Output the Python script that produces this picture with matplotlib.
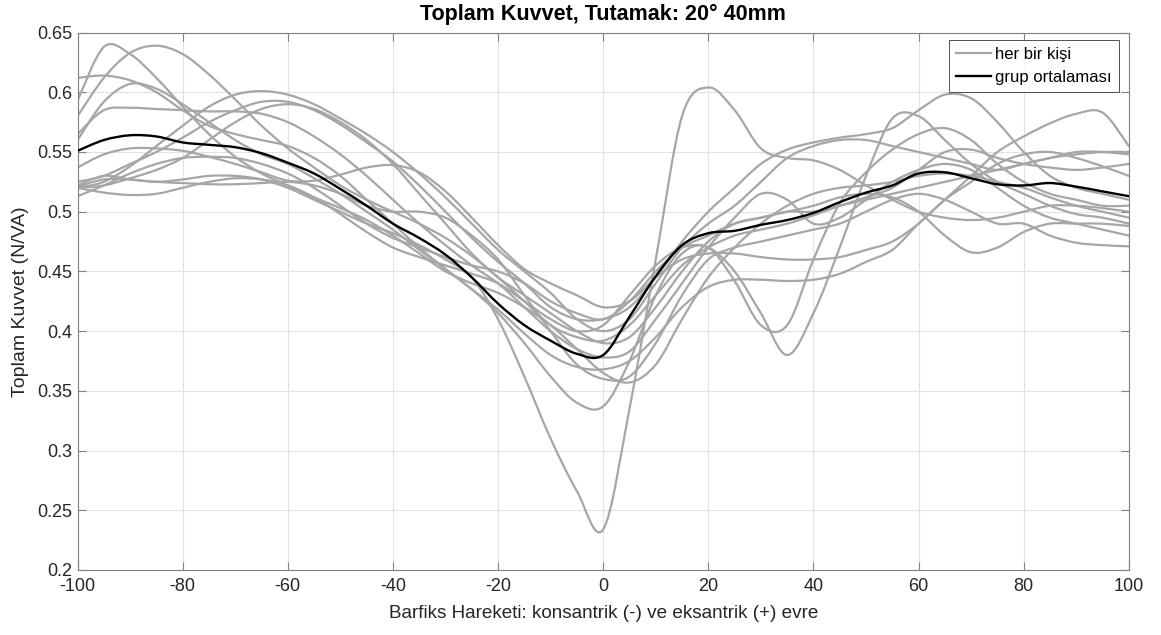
import numpy as np
import matplotlib
matplotlib.use("Agg")
import matplotlib.pyplot as plt
from matplotlib.path import Path
from matplotlib.patches import PathPatch
from matplotlib.lines import Line2D
from matplotlib import font_manager

# ---------------------------------------------------------------- data
phase = list(range(-100, 101, 5))

group_mean = [0.551, 0.560, 0.564, 0.563, 0.558, 0.556, 0.554, 0.549, 0.541, 0.532,
              0.519, 0.505, 0.490, 0.478, 0.464, 0.445, 0.423, 0.405, 0.392, 0.381,
              0.380, 0.412, 0.446, 0.472, 0.482, 0.484, 0.489, 0.493, 0.499, 0.508,
              0.516, 0.522, 0.532, 0.533, 0.528, 0.523, 0.522, 0.524, 0.521, 0.517,
              0.513]

subject_01 = [0.593, 0.638, 0.632, 0.612, 0.588, 0.565, 0.546, 0.532, 0.522, 0.512,
              0.503, 0.493, 0.480, 0.465, 0.450, 0.440, 0.432, 0.420, 0.405, 0.385,
              0.365, 0.357, 0.372, 0.410, 0.445, 0.470, 0.490, 0.505, 0.515, 0.520,
              0.522, 0.525, 0.530, 0.532, 0.530, 0.525, 0.520, 0.512, 0.505, 0.500,
              0.495]
subject_02 = [0.580, 0.612, 0.633, 0.639, 0.632, 0.615, 0.594, 0.572, 0.553, 0.537,
              0.522, 0.510, 0.500, 0.490, 0.478, 0.463, 0.445, 0.425, 0.405, 0.395,
              0.392, 0.405, 0.430, 0.455, 0.470, 0.480, 0.485, 0.490, 0.497, 0.505,
              0.512, 0.520, 0.535, 0.550, 0.552, 0.545, 0.540, 0.537, 0.535, 0.537,
              0.540]
subject_03 = [0.612, 0.614, 0.610, 0.600, 0.585, 0.572, 0.565, 0.560, 0.555, 0.545,
              0.530, 0.510, 0.490, 0.470, 0.452, 0.435, 0.415, 0.390, 0.362, 0.340,
              0.337, 0.375, 0.430, 0.465, 0.470, 0.442, 0.405, 0.405, 0.460, 0.507,
              0.533, 0.552, 0.565, 0.570, 0.560, 0.540, 0.525, 0.515, 0.510, 0.505,
              0.505]
subject_04 = [0.560, 0.592, 0.607, 0.603, 0.590, 0.575, 0.560, 0.548, 0.540, 0.528,
              0.515, 0.500, 0.485, 0.468, 0.452, 0.435, 0.418, 0.398, 0.380, 0.370,
              0.368, 0.375, 0.395, 0.420, 0.437, 0.443, 0.443, 0.442, 0.443, 0.448,
              0.458, 0.468, 0.490, 0.510, 0.530, 0.550, 0.563, 0.574, 0.582, 0.583,
              0.555]
subject_05 = [0.565, 0.585, 0.587, 0.586, 0.585, 0.584, 0.584, 0.582, 0.575, 0.563,
              0.548, 0.530, 0.510, 0.490, 0.472, 0.455, 0.440, 0.420, 0.400, 0.385,
              0.378, 0.383, 0.410, 0.440, 0.470, 0.495, 0.515, 0.510, 0.490, 0.495,
              0.510, 0.525, 0.535, 0.540, 0.535, 0.520, 0.505, 0.495, 0.490, 0.485,
              0.480]
subject_06 = [0.520, 0.525, 0.538, 0.555, 0.572, 0.588, 0.598, 0.601, 0.598, 0.590,
              0.578, 0.565, 0.550, 0.532, 0.512, 0.490, 0.468, 0.450, 0.432, 0.410,
              0.400, 0.410, 0.440, 0.470, 0.490, 0.505, 0.525, 0.545, 0.555, 0.560,
              0.560, 0.555, 0.550, 0.545, 0.540, 0.535, 0.540, 0.545, 0.550, 0.550,
              0.548]
subject_07 = [0.525, 0.530, 0.540, 0.550, 0.562, 0.575, 0.585, 0.592, 0.592, 0.585,
              0.573, 0.558, 0.542, 0.522, 0.500, 0.478, 0.458, 0.440, 0.420, 0.410,
              0.410, 0.420, 0.445, 0.475, 0.500, 0.520, 0.540, 0.552, 0.558, 0.562,
              0.565, 0.570, 0.585, 0.598, 0.595, 0.575, 0.550, 0.530, 0.520, 0.515,
              0.510]
subject_08 = [0.520, 0.522, 0.528, 0.535, 0.545, 0.560, 0.575, 0.586, 0.590, 0.586,
              0.575, 0.560, 0.540, 0.515, 0.490, 0.465, 0.445, 0.430, 0.415, 0.400,
              0.390, 0.395, 0.420, 0.450, 0.475, 0.490, 0.495, 0.500, 0.500, 0.505,
              0.510, 0.515, 0.520, 0.525, 0.530, 0.535, 0.540, 0.545, 0.548, 0.550,
              0.550]
subject_09 = [0.537, 0.548, 0.553, 0.553, 0.551, 0.546, 0.540, 0.533, 0.526, 0.526,
              0.531, 0.537, 0.539, 0.533, 0.517, 0.495, 0.472, 0.452, 0.440, 0.430,
              0.420, 0.425, 0.445, 0.460, 0.465, 0.465, 0.462, 0.460, 0.460, 0.462,
              0.468, 0.475, 0.490, 0.510, 0.525, 0.540, 0.548, 0.550, 0.545, 0.538,
              0.530]
subject_10 = [0.522, 0.530, 0.527, 0.525, 0.527, 0.530, 0.530, 0.527, 0.520, 0.510,
              0.500, 0.490, 0.482, 0.472, 0.460, 0.445, 0.410, 0.362, 0.310, 0.266,
              0.234, 0.335, 0.460, 0.580, 0.604, 0.585, 0.553, 0.545, 0.543, 0.535,
              0.522, 0.510, 0.500, 0.495, 0.493, 0.495, 0.500, 0.505, 0.505, 0.503,
              0.500]
subject_11 = [0.520, 0.516, 0.514, 0.515, 0.520, 0.525, 0.528, 0.527, 0.522, 0.512,
              0.498, 0.483, 0.470, 0.462, 0.455, 0.448, 0.440, 0.425, 0.410, 0.400,
              0.405, 0.430, 0.455, 0.470, 0.470, 0.450, 0.415, 0.380, 0.415, 0.470,
              0.530, 0.578, 0.580, 0.560, 0.540, 0.525, 0.515, 0.505, 0.498, 0.495,
              0.490]
subject_12 = [0.513, 0.522, 0.532, 0.540, 0.545, 0.546, 0.545, 0.540, 0.532, 0.520,
              0.505, 0.490, 0.478, 0.470, 0.462, 0.455, 0.450, 0.440, 0.425, 0.415,
              0.410, 0.425, 0.450, 0.470, 0.480, 0.490, 0.495, 0.500, 0.505, 0.512,
              0.515, 0.512, 0.500, 0.480, 0.466, 0.470, 0.483, 0.490, 0.490, 0.490,
              0.488]
subject_13 = [0.521, 0.527, 0.527, 0.525, 0.524, 0.523, 0.523, 0.524, 0.525, 0.522,
              0.515, 0.505, 0.500, 0.500, 0.495, 0.480, 0.460, 0.430, 0.400, 0.372,
              0.360, 0.362, 0.390, 0.430, 0.460, 0.470, 0.475, 0.480, 0.485, 0.490,
              0.500, 0.510, 0.515, 0.510, 0.500, 0.490, 0.490, 0.480, 0.474, 0.472,
              0.471]

subjects = [subject_01, subject_02, subject_03, subject_04, subject_05, subject_06,
            subject_07, subject_08, subject_09, subject_10, subject_11, subject_12,
            subject_13]

x_ticks = list(range(-100, 101, 20))
y_ticks = [0.2, 0.25, 0.3, 0.35, 0.4, 0.45, 0.5, 0.55, 0.6, 0.65]
y_tick_labels = ["0.2", "0.25", "0.3", "0.35", "0.4", "0.45", "0.5", "0.55", "0.6", "0.65"]

title_text = "Toplam Kuvvet, Tutamak: 20° 40mm"
x_label = "Barfiks Hareketi: konsantrik (-) ve eksantrik (+) evre"
y_label = "Toplam Kuvvet (N/VA)"
legend_labels = ["her bir kişi", "grup ortalaması"]

# ---------------------------------------------------------------- style
installed = {f.name for f in font_manager.fontManager.ttflist}
family = "Liberation Sans" if "Liberation Sans" in installed else "DejaVu Sans"
plt.rcParams["font.family"] = [family, "DejaVu Sans"]

GRAY = "#a6a6a6"
BLACK = "#000000"
AXIS_COLOR = "#808080"
TEXT_COLOR = "#262626"


def smooth_curve(xs, ys):
    """Cubic (Catmull-Rom) Bezier path running through every sample."""
    pts = np.column_stack([np.asarray(xs, float), np.asarray(ys, float)])
    n = len(pts)
    verts = [pts[0]]
    codes = [Path.MOVETO]
    for i in range(n - 1):
        p0 = pts[i - 1] if i > 0 else pts[i]
        p1 = pts[i]
        p2 = pts[i + 1]
        p3 = pts[i + 2] if i + 2 < n else pts[i + 1]
        verts += [p1 + (p2 - p0) / 6.0, p2 - (p3 - p1) / 6.0, p2]
        codes += [Path.CURVE4] * 3
    return Path(verts, codes)


fig = plt.figure(figsize=(11.61, 6.35), dpi=100)
ax = fig.add_axes([0.0668, 0.1024, 0.9055, 0.8463])

for series in subjects:
    ax.add_patch(PathPatch(smooth_curve(phase, series), fill=False,
                           edgecolor=GRAY, lw=1.6, capstyle="round",
                           joinstyle="round", zorder=2))
ax.add_patch(PathPatch(smooth_curve(phase, group_mean), fill=False,
                       edgecolor=BLACK, lw=1.7, capstyle="round",
                       joinstyle="round", zorder=3))

ax.set_xlim(-100, 100)
ax.set_ylim(0.2, 0.65)
ax.set_xticks(x_ticks)
ax.set_xticklabels([str(t) for t in x_ticks])
ax.set_yticks(y_ticks)
ax.set_yticklabels(y_tick_labels)

ax.grid(True, color="#e2e2e2", lw=0.8, zorder=0)
ax.set_axisbelow(True)
for side in ax.spines.values():
    side.set_color(AXIS_COLOR)
    side.set_linewidth(0.8)
ax.tick_params(direction="in", length=5.5, width=0.8, color=AXIS_COLOR,
               top=True, right=True, labelcolor=TEXT_COLOR, labelsize=13)
ax.tick_params(axis="x", pad=6)
ax.tick_params(axis="y", pad=4)

ax.set_title(title_text, fontsize=15.5, fontweight="bold", color=BLACK, pad=9)
ax.set_xlabel(x_label, fontsize=13.6, color=TEXT_COLOR, labelpad=7)
ax.set_ylabel(y_label, fontsize=14, color=TEXT_COLOR, labelpad=6)

handles = [Line2D([], [], color=GRAY, lw=1.6),
           Line2D([], [], color=BLACK, lw=1.7)]
leg = ax.legend(handles, legend_labels, loc="upper right",
                bbox_to_anchor=(0.991, 0.987), borderaxespad=0, fontsize=12,
                frameon=True, fancybox=False, handlelength=2.1,
                handletextpad=0.25, borderpad=0.45, labelspacing=0.45)
leg.get_frame().set_edgecolor(TEXT_COLOR)
leg.get_frame().set_linewidth(0.7)
for t in leg.get_texts():
    t.set_color(BLACK)

fig.savefig("out.png", dpi=100, facecolor="white")
